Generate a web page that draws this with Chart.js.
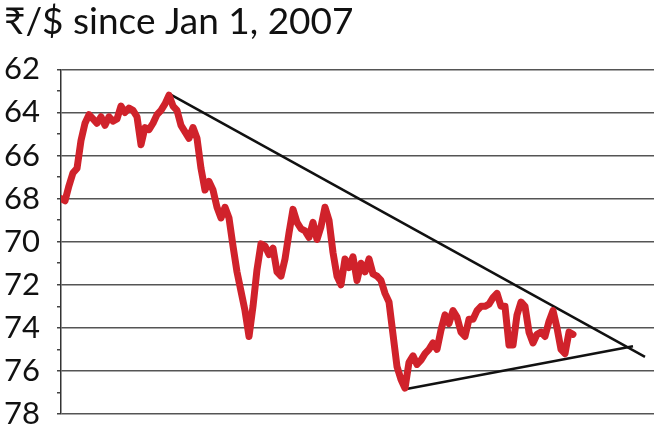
<!DOCTYPE html>
<html>
<head>
<meta charset="utf-8">
<script src="https://cdn.jsdelivr.net/npm/chart.js@4"></script>
<style>
  html, body { margin: 0; padding: 0; background: #fff; }
  #wrap { width: 660px; height: 440px; }
</style>
</head>
<body>
<div id="wrap"><canvas id="rupeeChart"></canvas></div>
<script>
const chartTitle = "₹/$ since Jan 1, 2007";

// rupees per dollar, one reading per fortnight
const rupeePerDollar = [
  68.0, 68.1, 67.4, 66.8, 66.6, 65.3, 64.5, 64.1, 64.3, 64.5,
  64.2, 64.6, 64.2, 64.4, 64.3, 63.7, 64.0, 63.8, 63.9, 64.2,
  65.5, 64.7, 64.8, 64.5, 64.1, 63.9, 63.6, 63.2, 63.7, 63.9,
  64.6, 64.9, 65.2, 64.7, 65.2, 66.6, 67.6, 67.2, 67.6, 68.4,
  68.9, 68.4, 68.9, 70.2, 71.4, 72.3, 73.2, 74.4, 73.0, 71.3,
  70.1, 70.2, 70.6, 70.3, 71.4, 71.6, 70.8, 69.6, 68.5, 69.1,
  69.4, 69.5, 69.8, 69.1, 69.9, 69.3, 68.4, 69.0, 70.5, 71.6,
  72.0, 70.8, 71.2, 70.7, 71.8, 71.0, 71.4, 70.8, 71.5, 71.6,
  71.8, 72.4, 72.8, 74.3, 75.8, 76.4, 76.8, 75.6, 75.3, 75.7,
  75.5, 75.2, 75.0, 74.7, 75.0, 74.1, 73.4, 73.8, 73.2, 73.5,
  74.2, 74.4, 73.6, 73.6, 73.2, 73.0, 73.0, 72.9, 72.6, 72.4,
  73.0, 73.0, 74.8, 74.8, 73.4, 72.8, 73.0, 74.2, 74.7, 74.3,
  74.2, 74.4, 73.7, 73.2, 74.0, 75.0, 75.2, 74.2, 74.3
];

// trend lines drawn over the series (fortnight index, rate)
const upperTrend = [{ x: 26.75, y: 63.1 }, { x: 146, y: 75.35 }];
const lowerTrend = [{ x: 86, y: 76.85 }, { x: 143, y: 74.85 }];

const yMin = 62, yMax = 78;
const xMax = 148.25;

const lineFont = "Lato, 'DejaVu Sans', sans-serif";

new Chart(document.getElementById("rupeeChart"), {
  type: "line",
  data: {
    datasets: [
      {
        data: rupeePerDollar.map((v, i) => ({ x: i, y: v })),
        borderColor: "#d0222b",
        borderWidth: 7,
        pointRadius: 0,
        borderJoinStyle: "round",
        borderCapStyle: "round",
        tension: 0
      },
      {
        data: upperTrend,
        borderColor: "#111",
        borderWidth: 2.5,
        pointRadius: 0
      },
      {
        data: lowerTrend,
        borderColor: "#111",
        borderWidth: 2.5,
        pointRadius: 0
      }
    ]
  },
  options: {
    responsive: true,
    maintainAspectRatio: false,
    animation: false,
    layout: { padding: { left: 4, right: 6, top: 0, bottom: 26 } },
    plugins: {
      legend: { display: false },
      tooltip: { enabled: false },
      title: {
        display: true,
        text: chartTitle,
        align: "start",
        color: "#111",
        font: { family: lineFont, size: 37, weight: "normal" },
        padding: { top: 0, bottom: 25 }
      }
    },
    scales: {
      x: { type: "linear", min: 0, max: xMax, display: false },
      y: {
        reverse: true,
        min: yMin,
        max: yMax,
        afterFit: (scale) => { scale.width = 57; },
        border: { color: "#333", width: 1.5 },
        grid: {
          color: (ctx) => (ctx.tick && ctx.tick.value % 2 ? "rgba(0,0,0,0)" : "#555"),
          tickColor: "#444",
          lineWidth: 1.5,
          tickLength: 4
        },
        ticks: {
          stepSize: 1,
          autoSkip: false,
          crossAlign: "far",
          color: "#111",
          font: { family: lineFont, size: 31 },
          callback: (v) => (v % 2 === 0 ? v : "")
        }
      }
    }
  }
});
</script>
</body>
</html>
